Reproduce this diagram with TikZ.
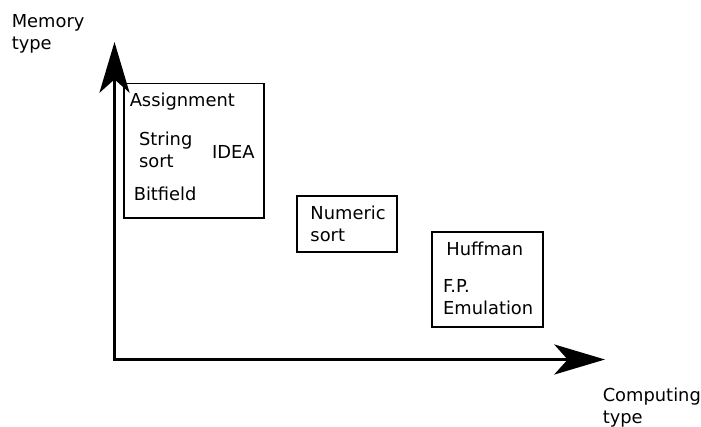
\documentclass[tikz,border=0pt]{standalone}
\usepackage{fontspec}
\setmainfont{DejaVu Sans}
\usetikzlibrary{arrows.meta}
\begin{document}
\begin{tikzpicture}[x=0.75pt,y=-0.75pt,
	every node/.style={font=\fontsize{13.4pt}{16.3pt}\selectfont,inner sep=0pt},
	lbl/.style={anchor=base west,align=left},
	box/.style={draw,line width=1pt},
	axis/.style={line width=2.6pt,line join=miter,{Stealth[length=38pt,width=22.5pt,inset=10pt]}-{Stealth[length=38pt,width=22.5pt,inset=10pt]}}]
	\useasboundingbox (0,0) rectangle (701,426);
	% multi-line labels are placed at the baseline of their last line
	\node[lbl] (A) at (11.5,49.7) {Memory\\type};
	\node[lbl] (B) at (602.5,423) {Computing\\type};

	\node[box,minimum width=105pt,minimum height=101pt] (C) at (194,150.75) {};
	\node[box,minimum width=75pt,minimum height=42pt] (D) at (347,224) {};
	\node[box,minimum width=83.25pt,minimum height=71.25pt] (E) at (487.5,279.5) {};

	\node[lbl] (F) at (129.5,106) {Assignment};
	\node[lbl] (G) at (138.8,167.5) {String\\sort};
	\node[lbl] (H) at (211.8,158.3) {IDEA};
	\node[lbl] (I) at (133.5,200) {Bitfield};
	\node[lbl] (J) at (310.2,241) {Numeric\\sort};
	\node[lbl] (K) at (446.2,255.7) {Huffman};
	\node[lbl] (L) at (442.8,314.3) {F.P.\\Emulation};

	\draw[axis] (114.5,42) |- (605,359.5);
\end{tikzpicture}
\end{document}
